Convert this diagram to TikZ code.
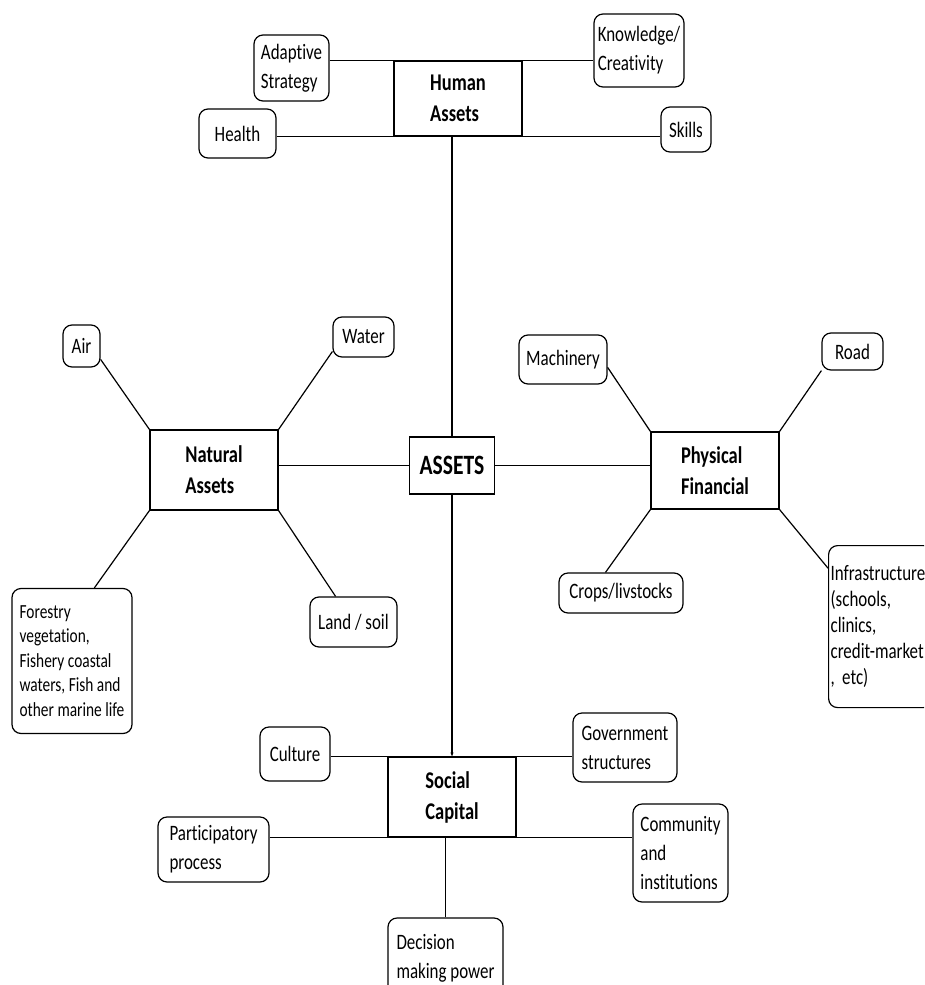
\documentclass[tikz,border=0pt]{standalone}
\usepackage{fontspec}
\setmainfont{Carlito}[FakeStretch=0.77,Ligatures=NoCommon]
\usetikzlibrary{arrows.meta}
\begin{document}
\begin{tikzpicture}[x=1pt,y=-1pt,line width=1.2pt,
  leaf/.style={draw,rounded corners=9pt,align=left,inner sep=2pt,font=\fontsize{22}{29}\selectfont},
  hub/.style={draw,align=left,inner sep=0pt,minimum width=128pt,font=\bfseries\fontsize{24}{31}\selectfont}]
\clip (0,0) rectangle (924,985);
% human assets
\node[hub,minimum height=75pt] (hum) at (458,98.5) {Human\\Assets};
\node[leaf,minimum width=75pt,minimum height=66pt] (adapt) at (291.5,68) {Adaptive\\Strategy};
\node[leaf,minimum width=90pt,minimum height=73pt] (know) at (639,50.5) {Knowledge/\\Creativity};
\node[leaf,minimum width=77pt,minimum height=49pt] (health) at (237.5,133.5) {Health};
\node[leaf,minimum width=50pt,minimum height=45pt] (skills) at (686,129.5) {Skills};
\draw (adapt.east |- hum.north) -- (know.west |- hum.north);
\draw (health.east |- hum.south) -- (skills.west |- hum.south);
% centre
\node[draw,minimum width=85pt,minimum height=57pt,inner sep=0pt,font=\bfseries\fontsize{28}{30}\selectfont] (ast) at (452,465.5) {ASSETS};
\draw (ast.north) -- (ast.north |- hum.south);
% natural assets
\node[hub,minimum height=80pt] (nat) at (214,470) {Natural\\Assets};
\node[leaf,minimum width=37pt,minimum height=42pt] (air) at (81.5,346) {Air};
\node[leaf,minimum width=61pt,minimum height=40pt] (water) at (363.5,337) {Water};
\node[leaf,minimum width=120pt,minimum height=145pt,font=\fontsize{20}{24.5}\selectfont] (forest) at (72,661) {Forestry\\vegetation,\\Fishery coastal\\waters, Fish and\\other marine life};
\node[leaf,minimum width=87pt,minimum height=50pt] (land) at (353.5,622) {Land / soil};
\draw (air.-35) -- (nat.north west);
\draw (water.205) -- (nat.north east);
\draw (forest.73) -- (nat.south west);
\draw (land.125) -- (nat.south east);
\draw (ast.west) -- (ast.west -| nat.east);
% physical financial
\node[hub,minimum height=77pt] (phy) at (715,470.5) {Physical\\Financial};
\node[leaf,minimum width=88pt,minimum height=49pt] (mach) at (563,359.5) {Machinery};
\node[leaf,minimum width=61pt,minimum height=37pt] (road) at (852.5,351.5) {Road};
\node[leaf,minimum width=124pt,minimum height=40pt] (crops) at (621,593) {Crops/livstocks};
\node[leaf,anchor=north west,text width=100pt,inner xsep=2pt,minimum height=162pt,font=\fontsize{22}{26}\selectfont] (infra) at (828,545) {Infrastructure\\(schools,\\clinics,\\credit-market\\, etc)};
\draw (ast.east) -- (ast.east -| phy.west);
\draw (mach.-10) -- (phy.north west);
\draw (road.south west) -- (phy.north east);
\draw (crops.127) -- (phy.south west);
\draw (infra.132) -- (phy.south east);
% social capital
\node[hub,minimum height=80pt] (soc) at (452,797) {Social\\Capital};
\node[leaf,minimum width=70pt,minimum height=54pt] (cult) at (295,754) {Culture};
\node[leaf,minimum width=104pt,minimum height=69pt] (gov) at (625,747.5) {Government\\structures};
\node[leaf,minimum width=111pt,minimum height=65pt] (part) at (213.5,849.5) {Participatory\\process};
\node[leaf,minimum width=95pt,minimum height=98pt] (comm) at (680.5,853) {Community\\and\\institutions};
\node[leaf,minimum width=115pt,minimum height=80pt] (dec) at (445.5,958) {Decision\\making power};
\draw[-{Stealth[length=4pt,width=3pt]}] (ast.south) -- (ast.south |- soc.north);
\draw (cult.east |- soc.north) -- (gov.west |- soc.north);
\draw (part.east |- soc.south) -- (comm.west |- soc.south);
\draw (dec.north) -- (dec.north |- soc.south);
%\draw (0,0) rectangle (924,985);
\end{tikzpicture}
\end{document}
